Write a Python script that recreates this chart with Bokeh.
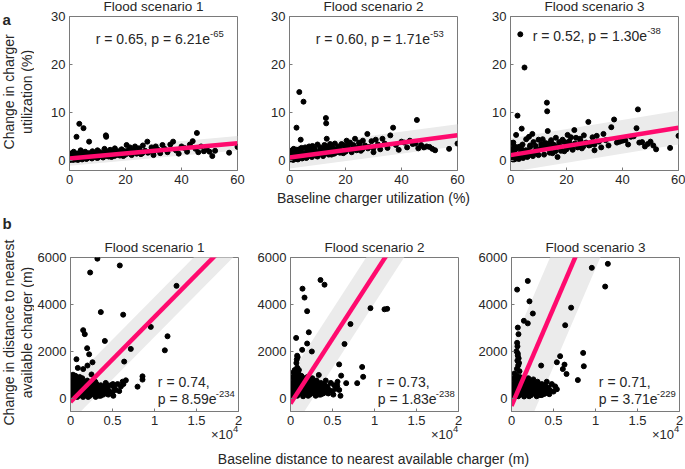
import math
from bokeh.plotting import figure
from bokeh.models import Label, FixedTicker, Range1d
from bokeh.layouts import column, row
from bokeh.embed import file_html
from bokeh.resources import INLINE

# ---------------- data ----------------
titles = ["Flood scenario 1", "Flood scenario 2", "Flood scenario 3"]

# (a) baseline utilization (%) shared by the three scenarios
util_x = [0.3,0.5,0.8,1.0,1.2,1.5,1.8,2.0,2.2,2.5,
          2.8,3.0,3.3,3.5,3.8,4.0,4.3,4.6,5.0,5.3,
          5.6,6.0,6.3,6.6,7.0,7.4,7.8,8.2,8.6,9.0,
          9.5,10.0,10.5,11.0,11.5,12.0,12.5,13.0,13.1,13.3,
          13.5,14.0,14.5,15.0,15.6,16.2,16.8,17.4,18.0,18.6,
          19.2,19.8,20.4,21.0,21.6,22.2,22.8,23.4,24.0,24.8,
          25.5,26.2,27.0,27.8,28.5,29.3,30.0,30.8,31.6,32.4,
          33.2,34.0,35.0,36.0,37.0,38.0,39.0,40.0,41.0,42.0,
          43.0,44.0,45.0,45.5,46.0,47.0,48.0,49.0,50.0,51.0,
          52.0,57.0,60.0,0.2,0.6,1.3,2.0,3.0,4.5,6.0,
          8.0,10.0,12.0,14.0,16.0,18.0,20.0,22.0,24.0,26.0,
          28.0,30.0,1.0,2.5,4.0,5.5,7.0,9.0,11.0,13.0,
          15.0,17.0,19.0,21.0,23.0,25.0,0.4,1.5,3.5,6.5]
util_s1 = [0.6,1.2,0.4,1.6,0.8,0.5,1.3,0.9,0.3,5.0,
           0.7,1.5,0.6,7.7,1.0,2.2,1.8,0.9,6.8,0.7,
           1.9,1.0,0.5,1.5,4.0,0.8,1.3,2.0,0.9,1.6,
           0.7,2.2,1.2,1.8,0.9,1.5,2.5,5.3,5.0,1.0,
           1.9,1.3,2.3,0.8,1.7,2.6,1.2,2.0,1.5,2.4,
           1.0,2.0,3.3,1.6,2.8,1.2,2.2,3.0,1.8,2.6,
           1.4,3.2,2.1,4.0,1.9,2.8,1.2,3.0,2.3,1.6,
           3.3,2.5,1.8,3.4,4.0,2.2,1.5,3.0,2.7,1.9,
           3.4,4.1,2.5,5.8,1.8,3.0,2.0,2.4,1.9,1.0,
           2.1,1.7,2.9,0.2,0.3,0.2,0.5,0.2,0.3,0.4,
           0.5,0.6,0.7,0.9,1.0,1.1,1.3,1.4,1.5,1.6,
           1.7,1.8,0.9,1.5,1.3,1.1,1.6,1.1,1.3,1.6,
           1.8,1.6,2.1,2.2,2.0,2.3,1.5,1.9,1.6,0.9]
util_s2 = [0.9,1.8,0.5,2.2,1.2,0.7,1.9,1.3,0.4,6.9,
           1.0,2.2,0.9,14.3,1.5,4.4,2.7,1.3,12.3,1.1,
           2.8,1.5,0.8,2.3,3.0,1.2,2.0,3.1,1.4,2.5,
           1.1,3.4,1.9,2.8,1.5,2.4,3.3,8.9,7.8,4.6,
           2.9,2.0,3.5,1.3,2.6,3.6,1.8,3.0,2.4,3.5,
           1.6,3.1,4.2,2.5,3.8,1.8,3.3,4.6,2.7,3.8,
           2.1,4.2,3.2,5.6,2.9,4.1,1.8,4.4,3.4,2.4,
           4.6,3.6,2.7,5.3,6.9,3.3,2.3,4.0,3.8,2.8,
           4.2,3.5,3.6,8.5,2.6,3.3,2.8,3.0,2.9,2.5,
           2.2,2.5,3.6,0.3,0.4,0.2,0.7,0.3,0.5,0.6,
           0.8,0.9,1.0,1.3,1.5,1.7,1.9,2.1,2.2,2.4,
           2.6,2.7,1.4,2.3,2.0,1.7,2.4,1.8,2.0,2.5,
           2.8,2.4,3.3,3.3,3.0,3.5,2.0,2.5,2.4,1.4]
util_s3 = [1.1,3.7,0.3,3.8,1.6,0.8,2.4,5.4,0.5,9.4,
           1.3,2.9,1.2,26.3,2.0,6.7,3.4,1.8,19.4,1.4,
           4.5,2.0,1.0,5.0,3.2,1.6,5.6,3.9,1.9,3.1,
           1.5,4.4,2.4,3.5,4.5,2.9,3.7,12.1,10.3,6.2,
           3.6,2.6,4.3,1.6,3.3,4.8,0.8,3.9,2.9,4.4,
           2.0,3.8,5.4,3.0,4.9,2.3,6.4,4.8,3.4,4.6,
           2.6,5.3,3.8,8.1,3.3,4.9,2.2,5.2,4.0,2.8,
           5.6,4.3,3.2,7.0,8.6,3.8,4.0,4.2,4.3,3.4,
           5.0,5.1,6.8,10.7,3.8,3.9,3.0,3.5,4.0,3.2,
           2.4,2.7,5.2,0.4,0.6,0.3,0.9,0.4,0.6,0.8,
           1.0,1.2,1.3,1.7,2.0,2.1,2.4,2.6,2.8,3.0,
           3.2,3.4,1.9,2.7,2.4,2.2,2.9,2.2,2.6,3.1,
           3.5,3.0,4.0,4.1,3.6,4.2,2.5,3.0,3.0,1.8]

util_fit_intercept = [0.5, 0.7, 1.2]
util_fit_slope = [0.053, 0.077, 0.095]
util_band_half = [1.5, 2.3, 3.5]
util_r = ["0.65", "0.60", "0.52"]
util_p = ["6.21", "1.71", "1.30"]
util_pexp = ["-65", "-53", "-38"]

# (b) baseline distance (m) vs change in distance (m), (x, y) pairs
dist_s1 = [(3200,5950),(5870,5660),(2340,5360),(12620,4790),(3610,3670),(6270,3560),(9560,3040),
           (11550,2640),(11230,2040),(1510,2900),(1700,2730),(4090,2440),(7180,2100),(1980,2130),
           (2220,1870),(710,1660),(6390,1560),(2620,1530),(870,1290),(2020,1390),(1510,1240),
           (8570,930),(8570,790),(7980,490),(6590,760),(6300,600),(2500,1010),
           (100,50),(200,150),(300,300),(400,100),(500,450),(600,250),(700,600),(800,50),(900,350),
           (1000,700),(1100,200),(1200,500),(1300,800),(1400,100),(1500,400),(1600,650),(1700,250),
           (1800,550),(1900,150),(2000,750),(2100,350),(2200,600),(2300,100),(2400,450),(2500,250),
           (2600,700),(2700,350),(2800,150),(2900,500),(3000,300),(3100,600),(3200,200),(3300,450),
           (3400,100),(3500,350),(3600,550),(3700,250),(3800,400),(3900,150),(4000,500),(4100,300),
           (4200,650),(4300,200),(4400,400),(4600,300),(4800,550),(5000,250),(5200,450),(5400,350),
           (5600,600),(5800,300),(6000,500),(6200,700),(400,600),(600,750),(900,100),(1200,250),
           (1500,50),(1800,300),(2100,50),(2400,200),(2700,600),(3000,50),(3300,250),(3600,100),
           (250,700),(150,400),(50,200),(350,850),(700,300),(1000,450),(1300,150),(1600,350),
           (1900,500),(2200,250),(3900,450),(4500,150),(5100,100),(900,800),(1100,900),(1400,850),
           (600,950),(300,1000),(2950,700),(4350,550),(5050,600),(3450,500),
           (150,250),(250,550),(350,150),(450,300),(550,600),(650,450),(750,150),(850,650),
           (950,250),(1050,550),(1150,750),(1250,350),(1350,600),(1450,250),(1550,700),(1650,150),
           (1750,500),(1850,350),(1950,250),(2050,550),(2250,450),(2350,650),(2450,350),(2650,250),
           (2750,500),(2850,400),(3050,150),(3150,450),(3350,350),(3550,250)]
dist_s2 = [(3570,5040),(4050,4840),(1430,4670),(1670,4290),(1980,3710),(9520,3840),(11190,3790),
           (11510,3810),(7140,3160),(2180,2810),(670,2570),(1980,2330),(6430,2310),(1390,2060),
           (2540,1990),(790,1810),(5790,1440),(8530,1330),(8650,910),(7940,640),(6030,960),
           (6630,640),(5950,100),(3370,990),(5560,530),
           (100,80),(200,250),(300,450),(400,150),(500,650),(600,350),(700,900),(800,100),(900,500),
           (1000,1000),(1100,300),(1200,700),(1300,950),(1400,200),(1500,550),(1600,850),(1700,350),
           (1800,700),(1900,200),(2000,900),(2100,450),(2200,750),(2300,150),(2400,600),(2500,350),
           (2600,850),(2700,450),(2800,200),(2900,650),(3000,400),(3100,750),(3200,250),(3300,550),
           (3400,150),(3500,450),(3600,650),(3700,300),(3800,500),(3900,200),(4000,600),(4100,350),
           (4200,750),(4300,250),(4400,500),(4600,350),(4800,650),(5000,300),(5200,550),(5400,400),
           (5600,700),(5800,350),(400,800),(600,1000),(900,150),(1200,350),(1500,80),(1800,400),
           (2100,100),(2400,300),(2700,700),(3000,100),(3300,350),(3600,150),(250,900),(150,550),
           (50,250),(350,1100),(700,400),(1000,600),(1300,200),(1600,450),(1900,650),(2200,300),
           (3900,550),(4500,200),(5100,150),(700,1500),(800,1300),(900,1100),(750,1650),(1000,1200),
           (650,1000),(850,1750),(1100,950),(500,1200),
           (150,300),(250,650),(350,200),(450,400),(550,800),(650,550),(750,200),(850,800),
           (950,300),(1050,700),(1150,850),(1250,450),(1350,700),(1450,300),(1550,800),(1650,200),
           (1750,600),(1850,450),(1950,300),(2050,650),(2250,550),(2350,750),(2450,450),(2650,300),
           (2750,600),(2850,500),(3050,200),(3150,550),(3350,450),(3550,300)]
dist_s3 = [(11470,5730),(9560,5560),(11150,4760),(1940,5000),(670,4630),(2140,4130),(2540,3610),
           (7100,3860),(1470,3300),(1940,3190),(6390,3110),(750,3010),(830,2730),(670,2360),
           (710,2210),(750,1810),(8530,1930),(8610,1360),(5790,1790),(5400,1530),(6310,1430),
           (3530,1390),(7900,770),(6550,1030),(6110,1240),
           (100,60),(200,200),(300,400),(400,120),(500,600),(600,300),(700,800),(800,80),(900,450),
           (1000,900),(1100,250),(1200,650),(1300,850),(1400,150),(1500,500),(1600,800),(1700,300),
           (1800,650),(1900,180),(2000,850),(2100,400),(2200,700),(2300,120),(2400,550),(2500,300),
           (2600,800),(2700,400),(2800,180),(2900,600),(3000,350),(3100,700),(3200,220),(3300,500),
           (3400,130),(3500,400),(3600,600),(3700,280),(3800,450),(3900,180),(4000,550),(4100,320),
           (4200,700),(4300,220),(4400,450),(4600,330),(4800,600),(5000,280),(5200,500),(5400,380),
           (400,750),(600,950),(900,130),(1200,300),(1500,70),(1800,350),(2100,80),(2400,250),
           (2700,650),(3000,80),(3300,300),(3600,130),(250,850),(150,500),(50,220),(350,1050),
           (700,350),(1000,550),(1300,180),(1600,400),(1900,600),(2200,280),(3900,500),(4500,170),
           (700,1600),(800,1400),(650,1250),(900,1500),(750,1900),(850,1700),(600,2000),(950,1150),
           (150,280),(250,600),(350,180),(450,350),(550,700),(650,500),(750,180),(850,700),
           (950,280),(1050,650),(1150,800),(1250,400),(1350,650),(1450,280),(1550,750),(1650,180),
           (1750,550),(1850,400),(1950,280),(2050,600),(2250,500),(2350,700),(2450,400),(2650,280),
           (2750,550),(2850,450),(3050,180),(3150,500),(3350,400),(3550,280)]

dist_fit_intercept = [-160, -229, -329]
dist_fit_slope = [0.3624, 0.553, 0.835]
dist_band_half = [850, 1250, 2500]
dist_r = ["0.74", "0.73", "0.71"]
dist_p = ["8.59", "1.83", "3.71"]
dist_pexp = ["-234", "-238", "-229"]

util_xticks = [0, 20, 40, 60]
util_yticks = [0, 10, 20, 30]
dist_xticks = [0, 5000, 10000, 15000, 20000]
dist_xtick_labels = {0: "0", 5000: "0.5", 10000: "1", 15000: "1.5", 20000: "2"}
dist_yticks = [0, 2000, 4000, 6000]

# ---------------- styling / layout ----------------
FONT = "Liberation Sans"
TXT = "#262626"
AXC = "#7a7a7a"
PINK = "#FF0A6E"
BANDC = "#EBEBEB"
FW = 168
FH = 154
TOP_B = 16          # figure top border (holds the panel title)
BOT_B1 = 20         # row 1 bottom border (tick labels)
BOT_B2 = 36         # row 2 bottom border (tick labels + x10^4)
YLAB_W = 34
ROW1_H = TOP_B + FH + BOT_B1
ROW2_TOP = 257
STRIP1_H = ROW2_TOP - TOP_B - ROW1_H
ROW2_H = TOP_B + FH + BOT_B2
STRIP2_H = 469 - ROW1_H - STRIP1_H - ROW2_H

def style_axis(ax):
    ax.axis_line_color = AXC
    ax.major_tick_line_color = AXC
    ax.major_tick_in = 3
    ax.major_tick_out = 0
    ax.minor_tick_line_color = None
    ax.major_label_text_font = FONT
    ax.major_label_text_color = TXT
    ax.major_label_text_font_size = "13px"
    ax.major_label_standoff = 4

def make_panel(xr, yr, xt, yt, bl, br, bt, bb, xover=None):
    p = figure(frame_width=FW, frame_height=FH, x_range=Range1d(*xr), y_range=Range1d(*yr),
               output_backend="svg", toolbar_location=None,
               min_border_left=bl, min_border_right=br, min_border_top=bt, min_border_bottom=bb,
               outline_line_color=AXC, background_fill_color="white", border_fill_color="white")
    p.grid.visible = False
    p.xaxis.ticker = FixedTicker(ticks=xt)
    p.yaxis.ticker = FixedTicker(ticks=yt)
    if xover:
        p.xaxis.major_label_overrides = xover
    style_axis(p.xaxis[0])
    style_axis(p.yaxis[0])
    sx = (xr[1] - xr[0]) / FW
    sy = (yr[1] - yr[0]) / FH
    return p, sx, sy

def strip(w, h):
    p = figure(width=w, height=h, x_range=Range1d(0, w), y_range=Range1d(h, 0),
               output_backend="svg", toolbar_location=None,
               x_axis_location=None, y_axis_location=None,
               min_border_left=0, min_border_right=0, min_border_top=0, min_border_bottom=0,
               outline_line_color=None, background_fill_color="white", border_fill_color="white")
    p.grid.visible = False
    return p

def lab(p, x, y, text, size, align="left", bold=False, side=None, angle=0):
    l = Label(x=x, y=y, text=text, text_font=FONT, text_font_size=f"{size}px",
              text_align=align, text_baseline="middle", angle=angle,
              text_color=TXT, text_font_style="bold" if bold else "normal")
    if side:
        p.add_layout(l, side)
    else:
        p.add_layout(l)

# borders per column: (left, right)
borders = [(35, 8), (44, 8), (45, 7)]

top_figs = []
for i in range(3):
    bl, br = borders[i]
    p, sx, sy = make_panel((0, 60), (-2, 30), util_xticks, util_yticks, bl, br, TOP_B, BOT_B1)
    b, m, h = util_fit_intercept[i], util_fit_slope[i], util_band_half[i]
    xs = [0, 60]
    p.varea(x=xs, y1=[b + m * x - h for x in xs], y2=[b + m * x + h for x in xs], color=BANDC)
    ys = [util_s1, util_s2, util_s3][i]
    p.scatter(util_x, ys, size=5, color="black")
    p.line(xs, [b + m * x for x in xs], line_width=4.5, color=PINK)
    lab(p, 30, 30 + 10.5 * sy, titles[i], 13.5, align="center", side="above")
    ex = 50.2 if i < 2 else 48.8
    ey = 25.4 if i < 2 else 26.0
    lab(p, ex, ey, f"r = {util_r[i]}, p = {util_p[i]}e", 14, align="right")
    lab(p, ex, ey + 5 * sy, util_pexp[i], 9.5, align="left")
    top_figs.append(p)

bot_figs = []
for i in range(3):
    bl, br = borders[i]
    p, sx, sy = make_panel((0, 20000), (-570, 6000), dist_xticks, dist_yticks, bl, br, TOP_B, BOT_B2,
                           xover=dist_xtick_labels)
    b, m, h = dist_fit_intercept[i], dist_fit_slope[i], dist_band_half[i]
    xs = [0, 20000]
    p.varea(x=xs, y1=[b + m * x - h for x in xs], y2=[b + m * x + h for x in xs], color=BANDC)
    pts = [dist_s1, dist_s2, dist_s3][i]
    p.scatter([q[0] for q in pts], [q[1] for q in pts], size=5, color="black")
    p.line(xs, [b + m * x for x in xs], line_width=4.5, color=PINK)
    lab(p, 10000, 6000 + 10.5 * sy, titles[i], 13.5, align="center", side="above")
    lab(p, 10400, 669, f"r = {dist_r[i]},", 14)
    lab(p, 10400, -43, f"p = {dist_p[i]}e", 14)
    lab(p, 10400 + 58 * sx, -43 + 5 * sy, dist_pexp[i], 9.5)
    lab(p, 20000 - 5.5 * sx, -570 - 23 * sy, "\u00d710", 13, align="right", side="below")
    lab(p, 20000 - 5.5 * sx, -570 - 17 * sy, "4", 9.5, side="right")
    bot_figs.append(p)

# y-label column of row a (with the panel letter a)
ylab_top = strip(YLAB_W, ROW1_H)
lab(ylab_top, 2, 3.5, "a", 15, bold=True)
lab(ylab_top, 8.5, TOP_B + FH / 2, "Change in charger", 14, align="center", angle=math.pi / 2)
lab(ylab_top, 26, TOP_B + FH / 2, "utilization (%)", 14, align="center", angle=math.pi / 2)

# y-label column of row b (spans the gap strip too, holds the panel letter b)
YB_H = STRIP1_H + ROW2_H
ylab_bot = strip(YLAB_W, YB_H)
yb_mid = STRIP1_H + TOP_B + FH / 2 - 2
lab(ylab_bot, 2, 222.7 - ROW1_H, "b", 15, bold=True)
lab(ylab_bot, 8.5, yb_mid, "Change in distance to nearest", 14, align="center", angle=math.pi / 2)
lab(ylab_bot, 26, yb_mid, "available charger (m)", 14, align="center", angle=math.pi / 2)

# strip between the rows: x label of (a)
strip1 = strip(685 - YLAB_W, STRIP1_H)
lab(strip1, 373 - YLAB_W, 197 - ROW1_H, "Baseline charger utilization (%)", 14, align="center")

# strip at the bottom: x label of (b)
strip2 = strip(685, STRIP2_H)
lab(strip2, 373, STRIP2_H / 2, "Baseline distance to nearest available charger (m)", 14, align="center")

layout = column(row(ylab_top, *top_figs),
                row(ylab_bot, column(strip1, row(*bot_figs))),
                strip2)
open("out.html", "w").write(file_html(layout, INLINE, title="Flood scenarios"))
